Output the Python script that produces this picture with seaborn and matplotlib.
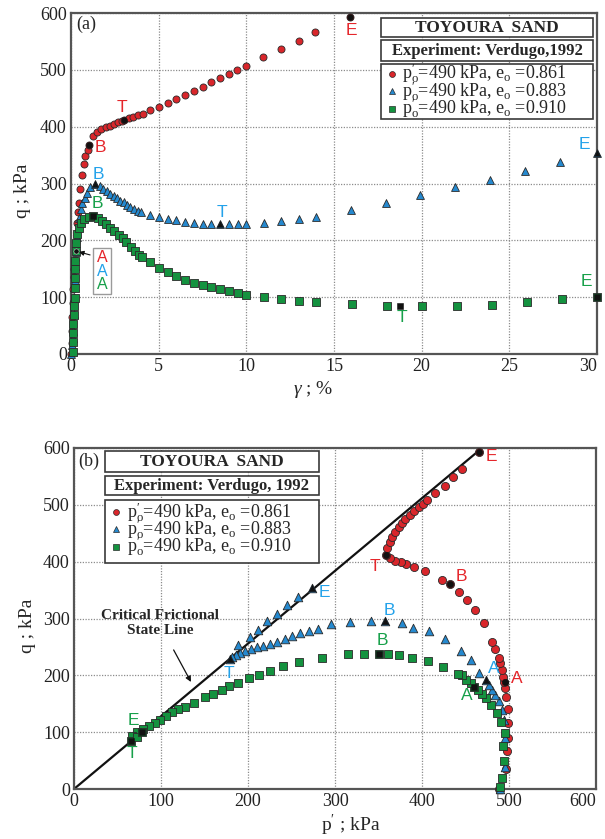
import numpy as np
import pandas as pd
import matplotlib
matplotlib.use("Agg")
import matplotlib.pyplot as plt
import seaborn as sns
from matplotlib.patches import Rectangle

# ---------------- data : panel (a)  gamma (%) vs q (kPa) ----------------
gamma_red = [0, 0.03, 0.05, 0.07, 0.09, 0.12, 0.15, 0.18, 0.22, 0.27, 0.31, 0.36, 0.39, 0.45,
             0.5, 0.62, 0.73, 0.81, 0.96, 1.04, 1.28, 1.49, 1.72, 1.97, 2.21, 2.44, 2.67, 2.9,
             3.05, 3.3, 3.54, 3.81, 4.08, 4.5, 5.03, 5.52, 6.01, 6.51, 7.0, 7.5, 7.99, 8.5,
             9.0, 9.49, 9.99, 10.97, 11.96, 12.99, 13.94, 15.94]
q_red_a = [0, 20, 40, 65, 90, 115, 135, 150, 165, 181, 197, 230, 250, 265,
           290, 315, 334, 349, 359, 368, 384, 391, 396, 399, 402, 405, 408, 410,
           412, 415, 417, 420, 423, 430, 435, 442, 448, 456, 463, 470, 479, 486,
           493, 500, 507, 522, 536, 550, 567, 593]

gamma_blue = [0, 0.05, 0.09, 0.12, 0.15, 0.18, 0.21, 0.25, 0.3, 0.36, 0.43, 0.55, 0.64, 0.78,
              0.92, 1.11, 1.38, 1.64, 1.83, 2.06, 2.25, 2.44, 2.63, 2.82, 3.01, 3.2, 3.39,
              3.62, 3.81, 4.02, 4.5, 5.02, 5.52, 6.01, 6.52, 7.0, 7.51, 8.01, 8.49, 9.0,
              9.51, 10.0, 11.0, 11.98, 13.0, 14.0, 15.97, 17.98, 19.93, 21.9, 23.9, 25.9,
              27.9, 30.0]
q_blue_a = [0, 15, 28, 40, 70, 100, 130, 155, 180, 205, 240, 255, 265, 275,
            284, 293, 299, 295, 291, 287, 282, 278, 274, 270, 267, 263, 259,
            255, 252, 249, 244, 241, 237, 235, 232, 230, 229, 229, 228, 228,
            229, 228, 231, 234, 237, 241, 253, 265, 280, 293, 306, 322,
            338, 353]

gamma_green = [0.09, 0.09, 0.12, 0.14, 0.16, 0.18, 0.2, 0.22, 0.22, 0.24, 0.25, 0.27, 0.31,
               0.37, 0.47, 0.56, 0.75, 1.0, 1.28, 1.55, 1.76, 1.98, 2.21, 2.46, 2.71, 2.94,
               3.16, 3.41, 3.64, 3.87, 4.04, 4.53, 5.03, 5.52, 6.01, 6.53, 7.0, 7.51, 8.01,
               8.49, 9.0, 9.51, 10.0, 11.0, 12.0, 13.0, 14.0, 16.0, 18.0, 20.0, 22.0, 24.0,
               26.0, 28.0, 30.0]
q_green_a = [3, 21, 37, 52, 68, 84, 99, 117, 134, 149, 164, 181, 196,
             211, 222, 231, 238, 241, 242, 239, 234, 228, 222, 216, 210, 204,
             197, 189, 181, 175, 170, 162, 152, 144, 137, 131, 125, 121, 118,
             114, 111, 107, 104, 100, 97, 94, 91, 88, 85, 85, 85, 87,
             91, 96, 100]

# characteristic points (A, B, T, E) in panel (a)
pts_labels = ["A", "B", "T", "E"]
gamma_red_pts = [0.27, 1.04, 3.05, 15.94]
q_red_pts_a = [183, 368, 412, 593]
gamma_blue_pts = [0.27, 1.38, 8.49, 30.0]
q_blue_pts_a = [182, 299, 228, 353]
gamma_green_pts = [0.27, 1.28, 18.75, 30.0]
q_green_pts_a = [181, 242, 85, 100]

# ---------------- data : panel (b)  p' (kPa) vs q (kPa) ----------------
p_red = [489, 497, 498, 499, 499, 498.6, 497, 495, 494.8, 493, 492, 490, 488, 484, 481, 471,
         461, 452, 442, 432, 423, 403, 391, 382, 376, 369, 363, 359, 360, 363, 366, 369,
         373, 377, 381, 386, 391, 396, 401, 406, 415, 426, 436, 446, 466]
q_red_b = [0, 35, 66, 90, 116, 141, 162, 178, 189, 197, 210, 221, 230, 246, 258, 292,
           315, 333, 347, 361, 368, 384, 391, 396, 399, 401, 406, 412, 424, 434, 443, 452,
           461, 468, 475, 482, 490, 496, 501, 508, 521, 534, 549, 563, 593]

p_blue = [490, 495, 495, 494, 492, 488, 484, 481, 477, 474, 466, 456, 445, 426, 408, 390,
          377, 357, 341, 317, 295, 281, 270, 260, 251, 242, 233, 225, 217, 210, 204, 197,
          191, 186, 182, 179, 188, 202, 211, 222, 233, 245, 258, 273]
q_blue_b = [0, 39, 90, 121, 139, 154, 165, 174, 183, 192, 204, 227, 242, 264, 278, 284,
            292, 296, 296, 294, 290, 282, 278, 274, 269, 264, 259, 255, 251, 249, 246, 242,
            239, 236, 233, 228, 254, 268, 280, 295, 308, 323, 337, 353]

p_green = [490, 492, 494, 493, 495, 491, 486, 479, 474, 469, 464, 460, 456, 451, 446, 441,
           424, 407, 389, 374, 361, 351, 333, 315, 285, 259, 240, 225, 213, 201, 189, 178,
           170, 160, 150, 138, 128, 120, 113, 106, 99, 93, 86, 79, 72, 67, 66, 72, 78]
q_green_b = [3, 20, 49, 76, 98, 118, 134, 148, 160, 168, 174, 180, 186, 192, 200, 202,
             215, 225, 231, 235, 238, 238, 238, 238, 231, 224, 216, 208, 200, 195, 186, 181,
             174, 168, 162, 152, 145, 140, 135, 128, 122, 116, 111, 105, 100, 94, 85, 92, 100]

p_red_pts = [495, 432, 359, 466]
q_red_pts_b = [189, 361, 412, 593]
p_blue_pts = [474, 357, 179, 273]
q_blue_pts_b = [192, 296, 228, 353]
p_green_pts = [460, 351, 66, 78]
q_green_pts_b = [180, 238, 85, 100]

# critical state line q = M p'
csl_p = [0, 469]
csl_q = [0, 600]

legend_labels = [r"p$_\mathregular{o}^{\prime}$=490 kPa, e$_\mathregular{o}$ =0.861",
                 r"p$_\mathregular{o}^{\prime}$=490 kPa, e$_\mathregular{o}$ =0.883",
                 r"p$_\mathregular{o}^{\prime}$=490 kPa, e$_\mathregular{o}$ =0.910"]

# ---------------- style ----------------
sns.set_theme(style="white")
plt.rcParams["font.family"] = ["Liberation Serif", "DejaVu Serif"]
plt.rcParams["mathtext.fontset"] = "custom"
plt.rcParams["mathtext.rm"] = "Liberation Serif"
plt.rcParams["mathtext.it"] = "Liberation Serif:italic"

RED, BLUE, GREEN = "#d9262b", "#2589cf", "#14923f"
RED_T, BLUE_T, GREEN_T = "#e5262b", "#23a2ea", "#17a04a"
EDGE = "#2a2a2a"
SANS = ["Liberation Sans", "DejaVu Sans"]

W, H = 605, 839
fig = plt.figure(figsize=(W / 100, H / 100), dpi=100)


def ax_at(l, t, r, b):
    return fig.add_axes([l / W, 1 - b / H, (r - l) / W, (b - t) / H])


axA = ax_at(71, 13, 597, 354)
axB = ax_at(74, 448, 596, 789)

for ax in (axA, axB):
    ax.set_axisbelow(True)
    ax.grid(True, linestyle=(0, (1, 1.2)), color="#8c8c8c", linewidth=0.9)
    for sp in ax.spines.values():
        sp.set_color("#555555")
        sp.set_linewidth(1.6)
    ax.tick_params(length=0, labelsize=13, pad=3, colors="#222222")
    ax.set_ylim(0, 600)
    ax.set_yticks(range(0, 601, 100))

# ---------------- panel (a) ----------------
ms = 26
sns.scatterplot(x=gamma_red, y=q_red_a, ax=axA, marker="o", s=ms, color=RED,
                edgecolor=EDGE, linewidth=0.6, clip_on=False, zorder=3)
sns.scatterplot(x=gamma_blue, y=q_blue_a, ax=axA, marker="^", s=ms + 6, color=BLUE,
                edgecolor=EDGE, linewidth=0.6, clip_on=False, zorder=4)
sns.scatterplot(x=gamma_green, y=q_green_a, ax=axA, marker="s", s=ms, color=GREEN,
                edgecolor=EDGE, linewidth=0.6, clip_on=False, zorder=5)
for gx, qy, mk in [(gamma_red_pts, q_red_pts_a, "o"), (gamma_blue_pts, q_blue_pts_a, "^"),
                   (gamma_green_pts, q_green_pts_a, "s")]:
    sns.scatterplot(x=gx[1:], y=qy[1:], ax=axA, marker=mk, s=18, color="#111111",
                    edgecolor="#111111", linewidth=0.4, clip_on=False, zorder=6)
sns.scatterplot(x=[gamma_green_pts[0]], y=[q_green_pts_a[0]], ax=axA, marker="o", s=14,
                color="#111111", clip_on=False, zorder=6)

axA.set_xlim(0, 30)
axA.set_xticks(range(0, 31, 5))
axA.set_xlabel(r"$\gamma$ ; %", fontsize=14)
axA.set_ylabel("q ; kPa", fontsize=14)
axA.xaxis.set_label_coords(0.46, -0.072)
axA.yaxis.set_label_coords(-0.076, 0.48)

# point labels (a)
lab_a = [("E", 16.0, 570, RED_T), ("T", 2.9, 434, RED_T), ("B", 1.7, 364, RED_T),
         ("B", 1.57, 316, BLUE_T), ("B", 1.5, 265, GREEN_T), ("T", 8.6, 249, BLUE_T),
         ("E", 29.3, 369, BLUE_T), ("T", 18.85, 64, GREEN_T), ("E", 29.4, 128, GREEN_T)]
for t, x, y, c in lab_a:
    axA.text(x, y, t, color=c, fontsize=12.5, family=SANS, ha="center", va="center", zorder=7)

# A-box with arrow
axA.add_patch(Rectangle((1.24, 105), 1.05, 81, facecolor="white", edgecolor="#9a9a9a",
                        linewidth=1.0, zorder=6))
for t, y, c in [("A", 169.5, RED_T), ("A", 146, BLUE_T), ("A", 122.6, GREEN_T)]:
    axA.text(1.77, y, t, color=c, fontsize=11.5, family=SANS, ha="center", va="center", zorder=7)
axA.annotate("", xy=(0.3, 181), xytext=(1.24, 173),
             arrowprops=dict(arrowstyle="-|>", color="#111111", lw=0.8, mutation_scale=7),
             zorder=7)
axA.text(0.3, 580, "(a)", fontsize=13, ha="left", va="center")

# ---------------- panel (b) ----------------
sns.lineplot(x=csl_p, y=csl_q, ax=axB, color="#111111", linewidth=1.6, zorder=2)
sns.scatterplot(x=p_red, y=q_red_b, ax=axB, marker="o", s=34, color=RED,
                edgecolor=EDGE, linewidth=0.6, clip_on=False, zorder=3)
sns.scatterplot(x=p_blue, y=q_blue_b, ax=axB, marker="^", s=38, color=BLUE,
                edgecolor=EDGE, linewidth=0.6, clip_on=False, zorder=4)
sns.scatterplot(x=p_green, y=q_green_b, ax=axB, marker="s", s=28, color=GREEN,
                edgecolor=EDGE, linewidth=0.6, clip_on=False, zorder=5)
for px, qy, mk in [(p_red_pts, q_red_pts_b, "o"), (p_blue_pts, q_blue_pts_b, "^"),
                   (p_green_pts, q_green_pts_b, "s")]:
    sns.scatterplot(x=px, y=qy, ax=axB, marker=mk, s=22, color="#111111",
                    edgecolor="#111111", linewidth=0.4, clip_on=False, zorder=6)

axB.set_xlim(0, 600)
axB.set_xticks(range(0, 601, 100))
axB.set_xlabel(r"p$^{\prime}$ ; kPa", fontsize=14)
axB.set_ylabel("q ; kPa", fontsize=14)
axB.xaxis.set_label_coords(0.53, -0.07)
axB.yaxis.set_label_coords(-0.072, 0.48)

lab_b = [("E", 480, 585, RED_T), ("T", 346, 391, RED_T), ("B", 445, 374, RED_T),
         ("A", 509, 195, RED_T), ("E", 288, 346, BLUE_T), ("B", 363, 314, BLUE_T),
         ("T", 178, 204, BLUE_T), ("A", 482, 212, BLUE_T), ("B", 355, 261, GREEN_T),
         ("A", 451, 165, GREEN_T), ("E", 68, 120, GREEN_T), ("T", 67, 62, GREEN_T)]
for t, x, y, c in lab_b:
    axB.text(x, y, t, color=c, fontsize=12.5, family=SANS, ha="center", va="center", zorder=7)

axB.text(99, 292, "Critical Frictional\nState Line", fontsize=11, fontweight="bold",
         ha="center", va="center", linespacing=1.25)
axB.annotate("", xy=(136, 184), xytext=(113, 249),
             arrowprops=dict(arrowstyle="-|>", color="#111111", lw=0.9, mutation_scale=8))
axB.text(5, 577, "(b)", fontsize=13, ha="left", va="center")

# keep the last x tick labels inside the figure, as in the reference
for ax in (axA, axB):
    labs = [l.get_text() for l in ax.get_xticklabels()]
    ax.set_xticklabels(labs)
    ax.get_xticklabels()[-1].set_horizontalalignment("right")


# ---------------- legend boxes (pixel layout) ----------------
def fbox(l, t, r, b, lw=1.2):
    fig.add_artist(Rectangle((l / W, 1 - b / H), (r - l) / W, (b - t) / H,
                             transform=fig.transFigure, facecolor="white",
                             edgecolor="#3a3a3a", linewidth=lw, zorder=10))


def ftext(x, y, s, **kw):
    fig.text(x / W, 1 - y / H, s, zorder=11, **kw)


def legend_block(l, r, t1, b1, t2, b2, t3, b3, title2, mx, tx, rows):
    fbox(l, t1, r, b1)
    ftext((l + r) / 2, (t1 + b1) / 2 + 0.5, "TOYOURA  SAND", fontsize=12.5,
          fontweight="bold", ha="center", va="center")
    fbox(l, t2, r, b2)
    ftext((l + r) / 2, (t2 + b2) / 2 + 0.5, title2, fontsize=12,
          fontweight="bold", ha="center", va="center")
    fbox(l, t3, r, b3)
    for (mk, col, sz), y, lab in zip([("o", RED, 18), ("^", BLUE, 22), ("s", GREEN, 16)],
                                     rows, legend_labels):
        fig.add_artist(plt.Line2D([mx / W], [1 - y / H], marker=mk, markersize=sz ** 0.5,
                                  color=col, markeredgecolor=EDGE, markeredgewidth=0.5,
                                  linestyle="none", transform=fig.transFigure, zorder=11))
        ftext(tx, y, lab, fontsize=13, ha="left", va="center")


legend_block(381, 593, 18, 37, 40, 61, 64, 119, "Experiment: Verdugo,1992",
             392, 402, [73.5, 91, 108.5])
legend_block(105, 319, 451, 472, 476, 495, 500, 563, "Experiment: Verdugo, 1992",
             116, 127, [512, 529, 546.5])

fig.savefig("out.png", dpi=100)
